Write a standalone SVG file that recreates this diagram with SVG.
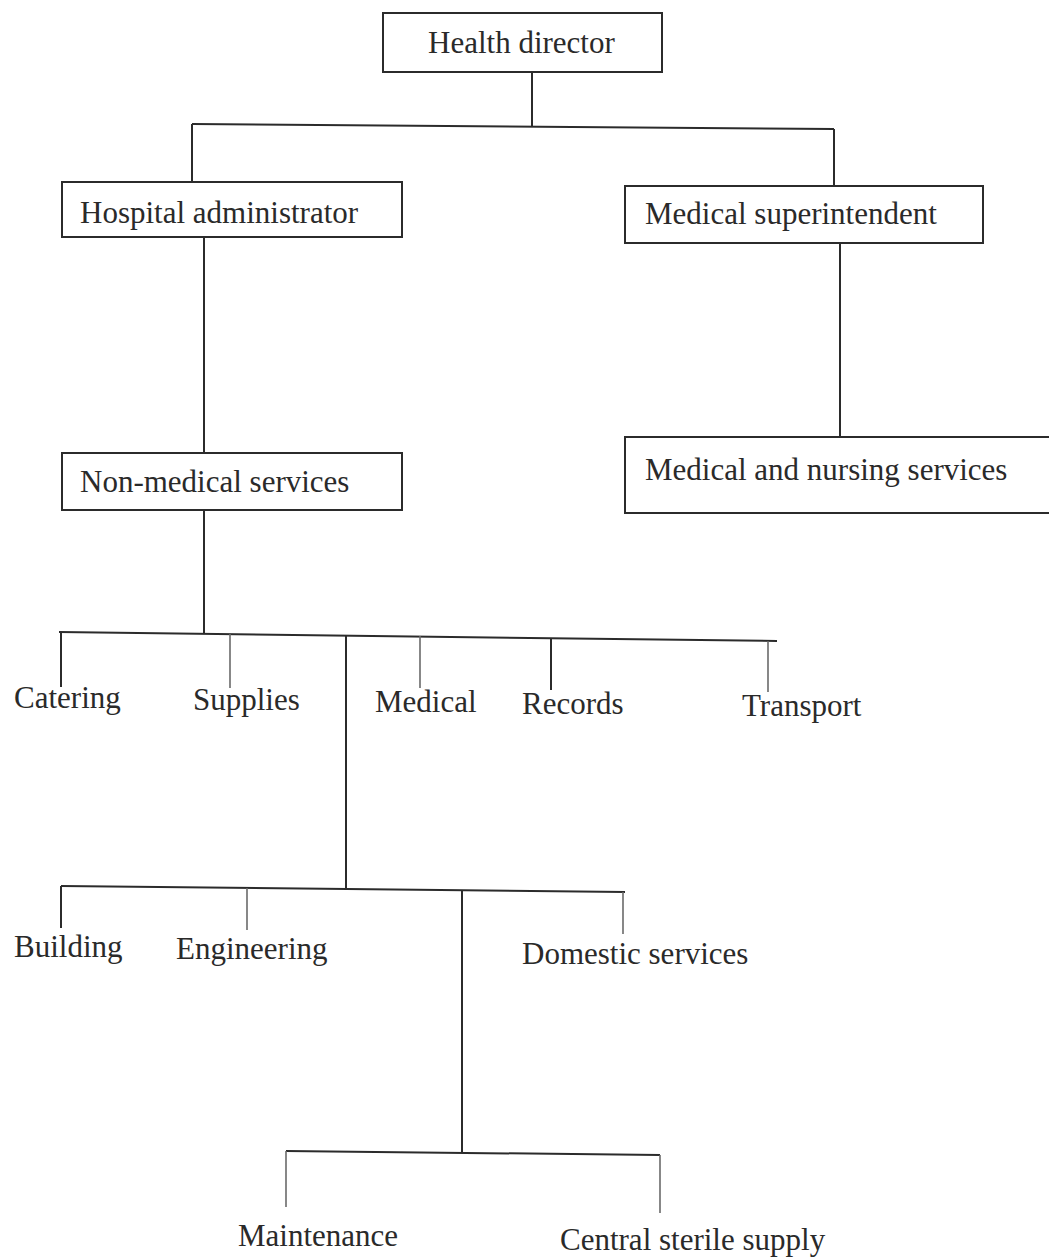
<svg xmlns="http://www.w3.org/2000/svg" width="1049" height="1260" viewBox="0 0 1049 1260">
<style>
  .box { fill: #ffffff; stroke: #2b2b2b; stroke-width: 2; }
  .t { font-family: "Liberation Serif", "Times New Roman", serif; font-size: 31px; fill: #2a2a2a; }
  .ln { stroke: #2b2b2b; stroke-width: 2; fill: none; }
  .lt { stroke: #6a6a6a; stroke-width: 1.6; fill: none; }
</style>
<rect width="1049" height="1260" fill="#ffffff"/>
<g id="connectors">
  <line class="ln" x1="532" y1="72" x2="532" y2="126"/>
  <line class="ln" x1="192" y1="124" x2="834" y2="129"/>
  <line class="ln" x1="192" y1="124" x2="192" y2="182"/>
  <line class="ln" x1="834" y1="129" x2="834" y2="186"/>
  <line class="ln" x1="204" y1="237" x2="204" y2="453"/>
  <line class="ln" x1="840" y1="243" x2="840" y2="437"/>
  <line class="ln" x1="204" y1="510" x2="204" y2="633"/>
  <line class="ln" x1="59" y1="632" x2="777" y2="641"/>
  <line class="ln" x1="61" y1="632" x2="61" y2="687"/>
  <line class="lt" x1="230" y1="634" x2="230" y2="688"/>
  <line class="ln" x1="346" y1="635" x2="346" y2="888"/>
  <line class="lt" x1="420" y1="636" x2="420" y2="688"/>
  <line class="ln" x1="551" y1="638" x2="551" y2="690"/>
  <line class="lt" x1="768" y1="641" x2="768" y2="692"/>
  <line class="ln" x1="61" y1="886" x2="625" y2="892"/>
  <line class="ln" x1="61" y1="886" x2="61" y2="928"/>
  <line class="lt" x1="247" y1="888" x2="247" y2="930"/>
  <line class="ln" x1="462" y1="890" x2="462" y2="1152"/>
  <line class="lt" x1="623" y1="892" x2="623" y2="934"/>
  <line class="ln" x1="286" y1="1151" x2="660" y2="1155"/>
  <line class="lt" x1="286" y1="1151" x2="286" y2="1207"/>
  <line class="lt" x1="660" y1="1155" x2="660" y2="1213"/>
</g>
<g id="health-director">
  <rect class="box" x="383" y="13" width="279" height="59"/>
  <text class="t" x="428" y="53">Health director</text>
</g>
<g id="hospital-administrator">
  <rect class="box" x="62" y="182" width="340" height="55"/>
  <text class="t" x="80" y="223">Hospital administrator</text>
</g>
<g id="medical-superintendent">
  <rect class="box" x="625" y="186" width="358" height="57"/>
  <text class="t" x="645" y="224">Medical superintendent</text>
</g>
<g id="medical-nursing-services">
  <rect class="box" x="625" y="437" width="440" height="76"/>
  <text class="t" x="645" y="480">Medical and nursing services</text>
</g>
<g id="non-medical-services">
  <rect class="box" x="62" y="453" width="340" height="57"/>
  <text class="t" x="80" y="492">Non-medical services</text>
</g>
<g id="catering"><text class="t" x="14" y="708">Catering</text></g>
<g id="supplies"><text class="t" x="193" y="710">Supplies</text></g>
<g id="medical"><text class="t" x="375" y="712">Medical</text></g>
<g id="records"><text class="t" x="522" y="714">Records</text></g>
<g id="transport"><text class="t" x="742" y="716">Transport</text></g>
<g id="building"><text class="t" x="14" y="957">Building</text></g>
<g id="engineering"><text class="t" x="176" y="959">Engineering</text></g>
<g id="domestic-services"><text class="t" x="522" y="964">Domestic services</text></g>
<g id="maintenance"><text class="t" x="238" y="1246">Maintenance</text></g>
<g id="central-sterile-supply"><text class="t" x="560" y="1250">Central sterile supply</text></g>
</svg>
